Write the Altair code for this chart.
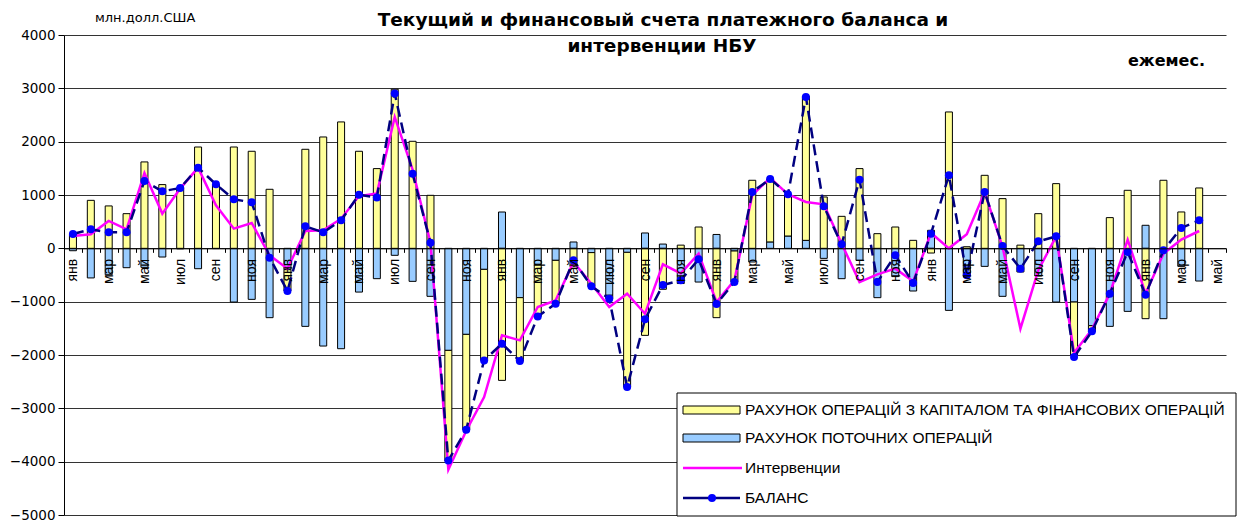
import altair as alt
import pandas as pd

# ---------------- data (million USD, monthly, Jan 2007 .. Apr 2012; May 2012 empty) -------------
month_names = ["янв", "фев", "мар", "апр", "май", "июн", "июл", "авг", "сен", "окт", "ноя", "дек"]
n_categories = 65  # Jan 2007 .. May 2012

current = [-45, -555, -495, -363, -357, -163, -10, -382, -5, -1007, -957, -1300,
           -400, -1463, -1832, -1882, -820, -569, -131, -619, -900, -1913, -1613, -394,
           681, -925, -300, -225, 119, -80, -880, -75, 288, 80, -660, -632,
           260, -50, -256, 120, 231, 150, -188, -569, -225, -925, -530, -800,
           338, -1163, -520, -338, -900, -444, -519, -1007, -1007, -1450, -1463, -1182,
           432, -1319, -338, -613]

capital = [275, 900, 795, 650, 1620, 1195, 1138, 1900, 1195, 1900, 1820, 1107,
           -400, 1857, 2088, 2370, 1820, 1495, 2983, 2007, 994, -2077, -1789, -1707,
           -2476, -1190, -976, -813, -344, -633, -64, -2527, -1632, -768, 60, 400,
           -1300, -580, 1276, 1180, 763, 2702, 963, 600, 1495, 275, 400, 150,
           -88, 2557, 30, 1369, 932, 60, 650, 1213, -1000, -110, 576, 1088,
           -1319, 1276, 682, 1132]

interventions = [230, 262, 513, 356, 1413, 651, 1120, 1513, 807, 369, 475, -131,
                 -381, 325, 338, 556, 980, 1026, 2463, 1476, 100, -4151, -3420, -2790,
                 -1632, -1726, -1100, -976, -256, -663, -1100, -850, -1226, -300, -470, -100,
                 -1007, -600, 1000, 1319, 1013, 869, 826, 88, -632, -488, -381, -619,
                 288, 0, 263, 1050, 30, -1507, -410, 225, -1960, -1520, -850, 163,
                 -850, -100, 163, 325]

balance = [270, 356, 300, 300, 1263, 1069, 1131, 1513, 1200, 919, 863, -175,
           -801, 413, 300, 525, 1007, 951, 2902, 1400, 107, -3977, -3400, -2101,
           -1788, -2114, -1276, -1038, -225, -713, -944, -2602, -1332, -688, -600, -206,
           -1044, -632, 1057, 1300, 1013, 2839, 788, 75, 1288, -632, -131, -650,
           275, 1369, -506, 1057, 44, -381, 131, 225, -2039, -1557, -850, -69,
           -869, -38, 382, 525]

series_names = ["РАХУНОК ОПЕРАЦІЙ З КАПІТАЛОМ ТА ФІНАНСОВИХ ОПЕРАЦІЙ",
                "РАХУНОК ПОТОЧНИХ ОПЕРАЦІЙ",
                "Интервенции",
                "БАЛАНС"]
title_lines = ["Текущий и финансовый счета платежного баланса и", "интервенции НБУ"]
unit_label = "млн.долл.США"
freq_label = "ежемес."
y_ticks = list(range(-5000, 4001, 1000))

# ---------------- tables ----------------
keys = [f"{i:02d}{month_names[i % 12]}" for i in range(n_categories)]

bar_rows = []
for i in range(len(current)):
    bar_rows.append({"key": keys[i], "series": "cur", "ord": 0, "value": current[i]})
    bar_rows.append({"key": keys[i], "series": "cap", "ord": 1, "value": capital[i]})
df_bars = pd.DataFrame(bar_rows)

df_lines = pd.DataFrame({"key": keys[:len(balance)],
                         "interv": interventions,
                         "balance": balance})

# ---------------- layout ----------------
W, H = 1162, 480
FONT = "Liberation Sans"
WIDE = "DejaVu Sans"
zero_offset = -H * 5 / 9

yscale = alt.Scale(domain=[-5000, 4000], nice=False, zero=False)
yaxis = alt.Axis(values=y_ticks, format="d", title=None, grid=True, gridColor="#333333",
                 gridWidth=1, domainColor="black", tickColor="black", tickSize=6,
                 labelFontSize=13.5, labelFont=WIDE, labelColor="black", labelPadding=3)

x_enc = alt.X("key:N",
              scale=alt.Scale(domain=keys, paddingInner=0, paddingOuter=0),
              axis=alt.Axis(title=None,
                            labelExpr="parseInt(substring(datum.value,0,2)) % 2 == 0 ? substring(datum.value,2) : ''",
                            labelAngle=270, labelFontSize=14, labelFont=FONT, labelColor="black",
                            labelPadding=6, labelOverlap=False, tickBand="extent", tickSize=4,
                            tickColor="black", domainColor="black", domainWidth=1,
                            offset=zero_offset, zindex=1, grid=False))

bars = alt.Chart(df_bars).mark_bar(size=7, stroke="black", strokeWidth=1).encode(
    x=x_enc,
    y=alt.Y("value:Q", stack="zero", scale=yscale, axis=yaxis),
    color=alt.Color("series:N", scale=alt.Scale(domain=["cap", "cur"],
                                                range=["#FFFF99", "#99CCFF"]), legend=None),
    order=alt.Order("ord:Q", sort="ascending"),
)

interv_line = alt.Chart(df_lines).mark_line(color="#FF00FF", strokeWidth=2.5).encode(
    x=x_enc, y=alt.Y("interv:Q", scale=yscale, axis=yaxis))

bal_line = alt.Chart(df_lines).mark_line(color="#000080", strokeWidth=2.5,
                                         strokeDash=[11, 6]).encode(
    x=x_enc, y=alt.Y("balance:Q", scale=yscale, axis=yaxis))

bal_pts = alt.Chart(df_lines).mark_circle(size=64, color="#0000FF", opacity=1).encode(
    x=x_enc, y=alt.Y("balance:Q", scale=yscale, axis=yaxis))


def text_layer(txt, x, y, size, bold=False, align="center", font=FONT):
    return alt.Chart(pd.DataFrame({"t": [txt]})).mark_text(
        font=font, fontSize=size, fontWeight="bold" if bold else "normal",
        align=align, baseline="middle", color="black").encode(
        text="t:N", x=alt.value(x), y=alt.value(y))


one = pd.DataFrame({"a": [1]})

legend_box = alt.Chart(one).mark_rect(fill="white", stroke="black", strokeWidth=1).encode(
    x=alt.value(613), x2=alt.value(1172), y=alt.value(358), y2=alt.value(481))
sw_cap = alt.Chart(one).mark_rect(fill="#FFFF99", stroke="black", strokeWidth=1).encode(
    x=alt.value(619), x2=alt.value(676), y=alt.value(371), y2=alt.value(379))
sw_cur = alt.Chart(one).mark_rect(fill="#99CCFF", stroke="black", strokeWidth=1).encode(
    x=alt.value(619), x2=alt.value(676), y=alt.value(399), y2=alt.value(407))
sw_int = alt.Chart(one).mark_rule(color="#FF00FF", strokeWidth=2.5).encode(
    x=alt.value(619), x2=alt.value(678), y=alt.value(433))
sw_bal = alt.Chart(one).mark_rule(color="#000080", strokeWidth=2.5).encode(
    x=alt.value(619), x2=alt.value(676), y=alt.value(463))
sw_bal_pt = alt.Chart(one).mark_circle(size=64, color="#0000FF", opacity=1).encode(
    x=alt.value(648), y=alt.value(463))

legend_texts = [text_layer(series_names[k], 681, yy, 15.5, align="left")
                for k, yy in enumerate([375, 403, 433, 463])]

title1 = text_layer(title_lines[0], 599, -15, 18.5, bold=True, font=WIDE)
title2 = text_layer(title_lines[1], 598, 11, 18.5, bold=True, font=WIDE)
unit = text_layer(unit_label, 31, -17, 13, align="left", font=WIDE)
freq = text_layer(freq_label, 1141, 26, 16, bold=True, align="right", font=WIDE)

chart = alt.layer(
    bars, interv_line, bal_line, bal_pts,
    legend_box, sw_cap, sw_cur, sw_int, sw_bal, sw_bal_pt, *legend_texts,
    title1, title2, unit, freq,
).properties(
    width=W, height=H,
    autosize=alt.AutoSizeParams(type="none"),
    padding={"left": 56, "top": 27, "right": 11, "bottom": 9},
    background="white",
).configure_view(stroke=None)

chart.save("out.html", embed_options={"renderer": "svg", "actions": False})
